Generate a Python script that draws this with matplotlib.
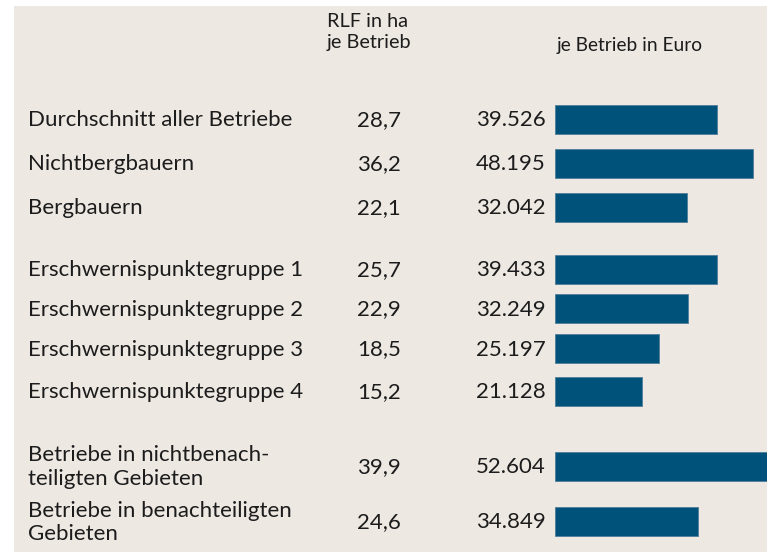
import matplotlib
matplotlib.use("Agg")
import matplotlib.pyplot as plt
from matplotlib.patches import Rectangle

# ---- data ----
categories = [
    "Durchschnitt aller Betriebe",
    "Nichtbergbauern",
    "Bergbauern",
    "Erschwernispunktegruppe 1",
    "Erschwernispunktegruppe 2",
    "Erschwernispunktegruppe 3",
    "Erschwernispunktegruppe 4",
    "Betriebe in nichtbenach-\nteiligten Gebieten",
    "Betriebe in benachteiligten\nGebieten",
]
rlf_labels = ["28,7", "36,2", "22,1", "25,7", "22,9", "18,5", "15,2", "39,9", "24,6"]
euro_values = [39526, 48195, 32042, 39433, 32249, 25197, 21128, 52604, 34849]
euro_labels = ["39.526", "48.195", "32.042", "39.433", "32.249", "25.197", "21.128", "52.604", "34.849"]
header_rlf = "RLF in ha\nje Betrieb"
header_euro = "je Betrieb in Euro"

# ---- layout (pixels) ----
W, H = 767, 555
row_y = [119.5, 163.5, 207.5, 269.5, 308.5, 348.5, 391.5, 466, 521.5]
bar_left_px = 555
px_per_euro = 0.00411

BG = "#ede8e2"
BAR = "#00527b"
TXT = "#1c1c1c"
FONT = "Lato"

fig = plt.figure(figsize=(W / 100, H / 100), dpi=100)
fig.patch.set_facecolor("white")

ax = fig.add_axes([0, 0, 1, 1])
ax.set_xlim(0, W)
ax.set_ylim(H, 0)
ax.axis("off")
ax.add_patch(Rectangle((14, 6), W - 14, 546, facecolor=BG, edgecolor="none", zorder=0))

# bars axes in euro units
bar_w_px = W - bar_left_px
axb = fig.add_axes([bar_left_px / W, 0, bar_w_px / W, 1])
axb.set_xlim(0, bar_w_px / px_per_euro)
axb.set_ylim(H, 0)
axb.axis("off")
axb.patch.set_alpha(0)
axb.barh(row_y, euro_values, height=29, left=0, color=BAR, edgecolor="#4f7f9c", linewidth=0.6, zorder=2)

fs = 16.0
for y, cat, r, e in zip(row_y, categories, rlf_labels, euro_labels):
    ax.text(28, y + 1, cat, ha="left", va="center", fontsize=fs, family=FONT, color=TXT,
            linespacing=1.2)
    ax.text(357, y + 1, r, ha="left", va="center", fontsize=fs, family=FONT, color=TXT)
    ax.text(546, y + 1, e, ha="right", va="center", fontsize=fs, family=FONT, color=TXT)

ax.text(327, 32, header_rlf, ha="left", va="center", fontsize=14.3, family=FONT,
        color=TXT, linespacing=1.25)
ax.text(557, 46, header_euro, ha="left", va="center", fontsize=13.8, family=FONT, color=TXT)

fig.savefig("out.png", dpi=100, facecolor="white")
